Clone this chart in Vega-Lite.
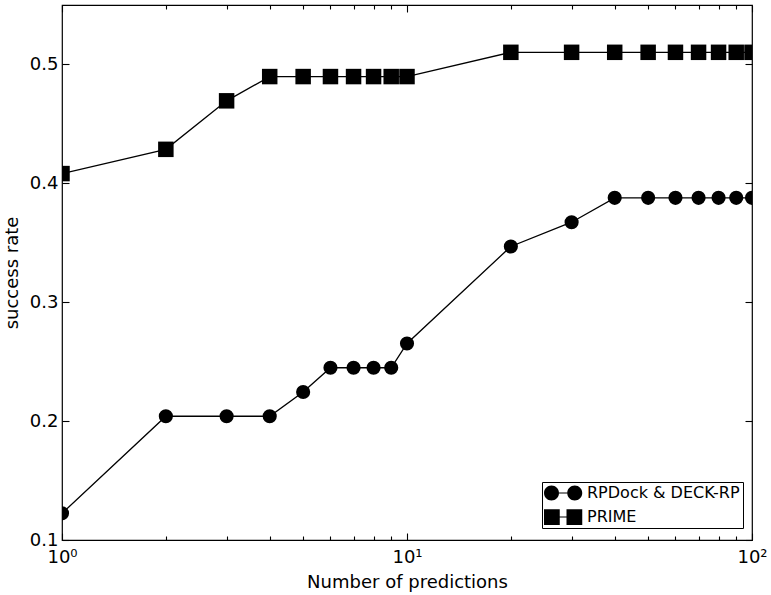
{
  "$schema": "https://vega.github.io/schema/vega-lite/v6.json",
  "width": 690,
  "height": 535,
  "autosize": "none",
  "padding": {"left": 62, "top": 5, "right": 19, "bottom": 55},
  "config": {
    "view": {"stroke": "black", "strokeWidth": 1.2},
    "font": "DejaVu Sans",
    "axis": {"grid": false, "domain": false, "labelFont": "DejaVu Sans", "titleFont": "DejaVu Sans", "labelFontSize": 18, "titleFontSize": 18, "titleFontWeight": "normal", "labelColor": "black", "titleColor": "black", "tickColor": "black", "tickWidth": 1.1}
  },
  "data": {"values": [
    {"series": "RPDock & DECK-RP", "n": 1, "rate": 0.1224},
    {"series": "RPDock & DECK-RP", "n": 2, "rate": 0.2041},
    {"series": "RPDock & DECK-RP", "n": 3, "rate": 0.2041},
    {"series": "RPDock & DECK-RP", "n": 4, "rate": 0.2041},
    {"series": "RPDock & DECK-RP", "n": 5, "rate": 0.2245},
    {"series": "RPDock & DECK-RP", "n": 6, "rate": 0.2449},
    {"series": "RPDock & DECK-RP", "n": 7, "rate": 0.2449},
    {"series": "RPDock & DECK-RP", "n": 8, "rate": 0.2449},
    {"series": "RPDock & DECK-RP", "n": 9, "rate": 0.2449},
    {"series": "RPDock & DECK-RP", "n": 10, "rate": 0.2653},
    {"series": "RPDock & DECK-RP", "n": 20, "rate": 0.3469},
    {"series": "RPDock & DECK-RP", "n": 30, "rate": 0.3673},
    {"series": "RPDock & DECK-RP", "n": 40, "rate": 0.3878},
    {"series": "RPDock & DECK-RP", "n": 50, "rate": 0.3878},
    {"series": "RPDock & DECK-RP", "n": 60, "rate": 0.3878},
    {"series": "RPDock & DECK-RP", "n": 70, "rate": 0.3878},
    {"series": "RPDock & DECK-RP", "n": 80, "rate": 0.3878},
    {"series": "RPDock & DECK-RP", "n": 90, "rate": 0.3878},
    {"series": "RPDock & DECK-RP", "n": 100, "rate": 0.3878},
    {"series": "PRIME", "n": 1, "rate": 0.4082},
    {"series": "PRIME", "n": 2, "rate": 0.4286},
    {"series": "PRIME", "n": 3, "rate": 0.4694},
    {"series": "PRIME", "n": 4, "rate": 0.4898},
    {"series": "PRIME", "n": 5, "rate": 0.4898},
    {"series": "PRIME", "n": 6, "rate": 0.4898},
    {"series": "PRIME", "n": 7, "rate": 0.4898},
    {"series": "PRIME", "n": 8, "rate": 0.4898},
    {"series": "PRIME", "n": 9, "rate": 0.4898},
    {"series": "PRIME", "n": 10, "rate": 0.4898},
    {"series": "PRIME", "n": 20, "rate": 0.5102},
    {"series": "PRIME", "n": 30, "rate": 0.5102},
    {"series": "PRIME", "n": 40, "rate": 0.5102},
    {"series": "PRIME", "n": 50, "rate": 0.5102},
    {"series": "PRIME", "n": 60, "rate": 0.5102},
    {"series": "PRIME", "n": 70, "rate": 0.5102},
    {"series": "PRIME", "n": 80, "rate": 0.5102},
    {"series": "PRIME", "n": 90, "rate": 0.5102},
    {"series": "PRIME", "n": 100, "rate": 0.5102}
  ]},
  "resolve": {"axis": {"x": "independent", "y": "independent"}, "scale": {"shape": "independent"}},
  "layer": [
    {
      "mark": {"type": "line", "color": "black", "strokeWidth": 1.3, "clip": true},
      "encoding": {
        "x": {"field": "n", "type": "quantitative", "scale": {"type": "log", "domain": [1, 100], "nice": false},
          "axis": {"orient": "bottom", "values": [1, 10, 100], "tickSize": -7, "labelPadding": 15, "labelOverlap": false, "labelFlush": false, "labelBound": false,
            "labelExpr": "datum.value == 1 ? '10⁰' : datum.value == 10 ? '10¹' : '10²'",
            "title": "Number of predictions", "titlePadding": 7}},
        "y": {"field": "rate", "type": "quantitative", "scale": {"domain": [0.1, 0.55], "nice": false, "zero": false},
          "axis": {"orient": "left", "values": [0.1, 0.2, 0.3, 0.4, 0.5], "format": ".1f", "tickSize": -7, "labelPadding": 11, "labelOverlap": false, "labelFlush": false,
            "title": "success rate", "titlePadding": 8}},
        "detail": {"field": "series"},
        "order": {"field": "n"}
      }
    },
    {
      "mark": {"type": "point", "filled": true, "color": "black", "opacity": 1, "clip": true},
      "encoding": {
        "x": {"field": "n", "type": "quantitative",
          "axis": {"orient": "bottom", "values": [2, 3, 4, 5, 6, 7, 8, 9, 20, 30, 40, 50, 60, 70, 80, 90], "tickSize": -4, "labels": false, "title": null}},
        "y": {"field": "rate", "type": "quantitative",
          "axis": {"orient": "right", "values": [0.1, 0.2, 0.3, 0.4, 0.5], "tickSize": -7, "labels": false, "title": null}},
        "shape": {"field": "series", "type": "nominal",
          "scale": {"domain": ["RPDock & DECK-RP", "PRIME"], "range": ["circle", "square"]},
          "legend": null},
        "size": {"condition": {"test": "datum.series === 'PRIME'", "value": 240}, "value": 200}
      }
    },
    {
      "mark": {"type": "point", "opacity": 0},
      "encoding": {
        "x": {"field": "n", "type": "quantitative",
          "axis": {"orient": "top", "values": [1, 10, 100], "tickSize": -7, "labels": false, "title": null}},
        "y": {"field": "rate", "type": "quantitative", "axis": null}
      }
    },
    {
      "mark": {"type": "point", "opacity": 0},
      "encoding": {
        "x": {"field": "n", "type": "quantitative",
          "axis": {"orient": "top", "values": [2, 3, 4, 5, 6, 7, 8, 9, 20, 30, 40, 50, 60, 70, 80, 90], "tickSize": -4, "labels": false, "title": null}},
        "y": {"field": "rate", "type": "quantitative", "axis": null}
      }
    },
    {
      "transform": [{"filter": "false"}],
      "mark": {"type": "point", "filled": true, "color": "black", "opacity": 1},
      "encoding": {
        "x": {"field": "n", "type": "quantitative", "axis": null},
        "y": {"field": "rate", "type": "quantitative", "axis": null},
        "shape": {"field": "series", "type": "nominal",
          "scale": {"domain": ["RPDock & DECK-RP", "PRIME"], "range": [
            "M-1.2 0 A1 1 0 1 1 0.8 0 A1 1 0 1 1 -1.2 0 Z M1.9 0 A1 1 0 1 1 3.9 0 A1 1 0 1 1 1.9 0 Z M0.8 -0.07 L1.9 -0.07 L1.9 0.07 L0.8 0.07 Z",
            "M-1.2 -1.05 L0.9 -1.05 L0.9 1.05 L-1.2 1.05 Z M1.8 -1.05 L3.9 -1.05 L3.9 1.05 L1.8 1.05 Z M0.9 -0.07 L1.8 -0.07 L1.8 0.07 L0.9 0.07 Z"]},
          "legend": {"orient": "none", "legendX": 480, "legendY": 477, "title": null,
            "strokeColor": "black", "fillColor": "white", "padding": 3, "cornerRadius": 0,
            "symbolSize": 225, "symbolFillColor": "black", "symbolStrokeWidth": 0, "symbolOpacity": 1,
            "labelFont": "DejaVu Sans", "labelFontSize": 16, "labelColor": "black", "labelOffset": 26, "labelLimit": 300, "rowPadding": 8}}
      }
    }
  ]
}
